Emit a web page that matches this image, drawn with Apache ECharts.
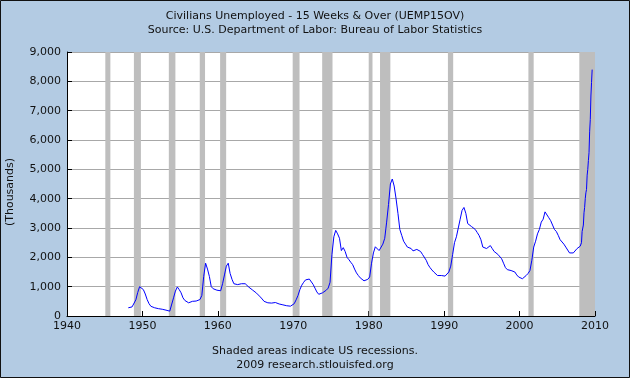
<!DOCTYPE html>
<html>
<head>
<meta charset="utf-8">
<script src="https://cdn.jsdelivr.net/npm/echarts@6/dist/echarts.min.js"></script>
<style>html,body{margin:0;padding:0;background:#B3CBE3}#c{width:630px;height:378px}</style>
</head>
<body>
<div id="c"></div>
<script>
// Quarterly values (thousands), starting 1948 Q1
const startYear = 1948;
const quarterlyValues = [
  280, 300, 310, 260,   // 1948
  550, 800, 1000, 980,  // 1949
  900, 750, 560, 420,   // 1950
  330, 300, 280, 270,   // 1951
  250, 240, 230, 210,   // 1952
  200, 175, 165, 230,   // 1953
  620, 850, 990, 900,   // 1954
  790, 620, 530, 480,   // 1955
  450, 480, 500, 510,   // 1956
  510, 510, 560, 700,   // 1957
  1350, 1800, 1600, 1350, // 1958
  1000, 930, 900, 880,  // 1959
  850, 860, 1100, 1400, // 1960
  1700, 1800, 1450, 1250, // 1961
  1100, 1080, 1070, 1080, // 1962
  1100, 1080, 1100, 1050, // 1963
  980, 950, 880, 830,   // 1964
  780, 720, 650, 580,   // 1965
  500, 460, 450, 440,   // 1966
  440, 450, 460, 440,   // 1967
  410, 395, 380, 370,   // 1968
  350, 340, 335, 360,   // 1969
  420, 550, 700, 900,   // 1970
  1050, 1150, 1230, 1260, // 1971
  1260, 1200, 1080, 950, // 1972
  820, 740, 740, 790,   // 1973
  840, 880, 950, 1150,  // 1974
  2100, 2700, 2920, 2800, // 1975
  2650, 2230, 2330, 2200, // 1976
  2000, 1920, 1830, 1750, // 1977
  1600, 1470, 1380, 1300, // 1978
  1250, 1200, 1190, 1250, // 1979
  1330, 1800, 2150, 2360, // 1980
  2350, 2230, 2250, 2450, // 1981
  2650, 3200, 3800, 4500, // 1982
  4670, 4430, 4000, 3500, // 1983
  2950, 2750, 2550, 2450, // 1984
  2350, 2320, 2300, 2220, // 1985
  2250, 2270, 2250, 2200, // 1986
  2100, 2040, 1900, 1750, // 1987
  1650, 1570, 1500, 1450, // 1988
  1380, 1350, 1380, 1400, // 1989
  1360, 1400, 1500, 1700, // 1990
  2100, 2500, 2700, 3000, // 1991
  3300, 3600, 3700, 3500, // 1992
  3150, 3100, 3050, 3000, // 1993
  2950, 2850, 2750, 2600, // 1994
  2350, 2350, 2300, 2350, // 1995
  2400, 2300, 2200, 2150, // 1996
  2100, 2050, 1950, 1800, // 1997
  1650, 1580, 1550, 1550, // 1998
  1550, 1500, 1400, 1330, // 1999
  1280, 1270, 1300, 1380, // 2000
  1450, 1550, 1900, 2350, // 2001
  2550, 2800, 2950, 3200, // 2002
  3300, 3550, 3550, 3350, // 2003
  3250, 3100, 2950, 2880, // 2004
  2750, 2600, 2550, 2450, // 2005
  2350, 2250, 2150, 2100, // 2006
  2150, 2200, 2300, 2350  // 2007
];
// Monthly values (thousands) Jan 2008 - Aug 2009
const monthlyStartYear = 2008;
const monthlyValues = [
  2380, 2440, 2500, 2880, 2900, 3100, 3520, 3700, 4000, 4200, 4310, 4800, // 2008
  5000, 5300, 5570, 6300, 6700, 7500, 7960, 8400                          // 2009
];
// Recession periods (decimal years)
const recessionStarts = [1945.08, 1948.87, 1953.5, 1957.6, 1960.3, 1969.92, 1973.83, 1980.0, 1981.5, 1990.5, 2001.17, 2007.92];
const recessionEnds   = [1945.75, 1949.8, 1954.37, 1958.3, 1961.1, 1970.83, 1975.2, 1980.5, 1982.87, 1991.2, 2001.87, 2010];
const yTicks = { min: 0, max: 9000, interval: 1000 };
const xTicks = { min: 1940, max: 2010, interval: 10 };

const seriesData = [];
quarterlyValues.forEach((v, i) => seriesData.push([startYear + i / 4 + 0.125, v]));
monthlyValues.forEach((v, i) => seriesData.push([monthlyStartYear + i / 12 + 1 / 24, v]));
const areas = recessionStarts.map((s, i) => [{ xAxis: s }, { xAxis: recessionEnds[i] }]);

const FONT = 'DejaVu Sans';
const chart = echarts.init(document.getElementById('c'), null, { renderer: 'canvas' });
chart.setOption({
  backgroundColor: '#B3CBE3',
  animation: false,
  title: [
    {
      text: 'Civilians Unemployed - 15 Weeks & Over (UEMP15OV)\nSource: U.S. Department of Labor: Bureau of Labor Statistics',
      left: 'center', top: 4,
      textStyle: { fontFamily: FONT, fontSize: 11, fontWeight: 'normal', color: '#111', lineHeight: 14, align: 'center' }
    },
    {
      text: 'Shaded areas indicate US recessions.\n2009 research.stlouisfed.org',
      left: 'center', top: 339,
      textStyle: { fontFamily: FONT, fontSize: 11, fontWeight: 'normal', color: '#111', lineHeight: 14, align: 'center' }
    }
  ],
  graphic: [
    {
      type: 'text', x: 10, y: 192, rotation: Math.PI / 2,
      style: { text: '(Thousands)', fontFamily: FONT, fontSize: 11, fill: '#111', align: 'center', verticalAlign: 'middle' }
    },
    {
      type: 'rect', z: 100, silent: true,
      shape: { x: 0.5, y: 0.5, width: 629, height: 377 },
      style: { fill: 'none', stroke: '#111', lineWidth: 1 }
    }
  ],
  grid: { left: 67, right: 35, top: 52, bottom: 62, show: true, backgroundColor: '#ffffff', borderWidth: 0 },
  xAxis: {
    type: 'value', min: xTicks.min, max: xTicks.max, interval: xTicks.interval,
    axisLine: { show: true, onZero: false, lineStyle: { color: '#000', width: 1 } },
    axisTick: { show: true, inside: true, length: 5, lineStyle: { color: '#000' } },
    splitLine: { show: false },
    axisLabel: { fontFamily: FONT, fontSize: 11, color: '#111', margin: 5, formatter: v => String(v) }
  },
  yAxis: {
    type: 'value', min: yTicks.min, max: yTicks.max, interval: yTicks.interval,
    axisLine: { show: true, lineStyle: { color: '#000', width: 1 } },
    axisTick: { show: true, inside: true, length: 5, lineStyle: { color: '#000' } },
    splitLine: { show: true, lineStyle: { color: '#A8A8A8', width: 1 } },
    axisLabel: { fontFamily: FONT, fontSize: 11, color: '#111', margin: 6, formatter: v => v.toLocaleString('en-US') }
  },
  series: [{
    type: 'line',
    data: seriesData,
    showSymbol: false,
    symbol: 'none',
    lineStyle: { color: '#0000FF', width: 1 },
    itemStyle: { color: '#0000FF' },
    markArea: {
      silent: true,
      itemStyle: { color: '#BEBEBE', opacity: 1 },
      data: areas
    }
  }]
});
</script>
</body>
</html>
